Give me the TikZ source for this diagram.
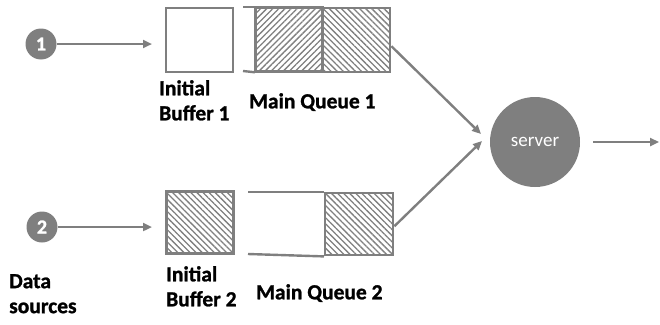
\documentclass[tikz,border=0pt]{standalone}
\usepackage{fontspec}
\setmainfont{Carlito}[BoldFeatures={FakeBold=1.2}]
\usetikzlibrary{patterns.meta,arrows.meta,positioning}
\definecolor{qgray}{HTML}{7F7F7F}
\tikzset{
  box/.style={draw=qgray,line width=2.4pt,inner sep=0pt,anchor=north west},
  hatchne/.style={pattern={Lines[angle=45,distance=4.3pt,line width=1.3pt]},pattern color=qgray},
  hatchnw/.style={pattern={Lines[angle=-45,distance=4.3pt,line width=1.3pt]},pattern color=qgray},
  conn/.style={draw=qgray,line width=2.4pt,-{Triangle[length=9pt,width=8pt]}},
  qline/.style={draw=qgray,line width=2.4pt},
  src/.style={circle,fill=qgray,minimum size=31pt,inner sep=0pt,text=white,font=\bfseries\fontsize{20}{20}\selectfont},
  lbl/.style={font=\bfseries\fontsize{21.5}{25}\selectfont,align=left,anchor=north west,inner sep=0pt}
}
\begin{document}
\begin{tikzpicture}[x=1pt,y=-1pt]
\useasboundingbox (0,0) rectangle (660,324);
% sources
\node[src] (s1) at (41,44) {1};
\node[src] (s2) at (42,227) {2};
% buffers
\node[box,minimum width=67pt,minimum height=64pt] (b1) at (165,7) {};
\node[box,hatchnw,minimum width=67pt,minimum height=62pt] (b2) at (166,191) {};
% main queue 1
\node[box,hatchne,minimum width=67pt,minimum height=64pt] (q1a) at (255,7) {};
\node[box,hatchnw,minimum width=67pt,minimum height=64pt] (q1b) at (322,7) {};
\coordinate (q1l) at (243,7);
\coordinate (q1lb) at (243,71);
\draw[qline] (q1l) -- (q1a.north west);
\draw[qline] (q1lb) -- (q1a.south west);
% main queue 2
\node[box,hatchnw,minimum width=68pt,minimum height=62pt] (q2b) at (324,192) {};
\coordinate (q2l) at (248,192);
\coordinate (q2lb) at (248,254);
\draw[qline] (q2l) -- (q2b.north west);
\draw[qline] (q2lb) -- (q2b.south west);
% server
\node[circle,fill=qgray,minimum size=90pt,inner sep=0pt,text=white,font=\fontsize{19}{19}\selectfont] (srv) at (535,142) {server};
% connectors
\coordinate (e1) at (152,44);
\coordinate (e2) at (152,227);
\draw[conn] (s1) -- (e1);
\draw[conn] (s2) -- (e2);
\coordinate (t1) at (481,134);
\coordinate (t2) at (482,141);
\draw[conn] ([yshift=-6pt]q1b.east) -- (t1);
\draw[conn] ([yshift=-2pt]q2b.east) -- (t2);
\coordinate (o1) at (593,142);
\coordinate (o2) at (659,142);
\draw[conn] (o1) -- (o2);
% labels
\node[lbl] (l1) at (159,80) {Initial\\Buffer 1};
\node[lbl] (l2) at (249,93) {Main Queue 1};
\node[lbl] (l3) at (166,266) {Initial\\Buffer 2};
\node[lbl] (l4) at (256,284) {Main Queue 2};
\node[lbl] (l5) at (9,274) {Data\\sources};
\end{tikzpicture}
\end{document}
